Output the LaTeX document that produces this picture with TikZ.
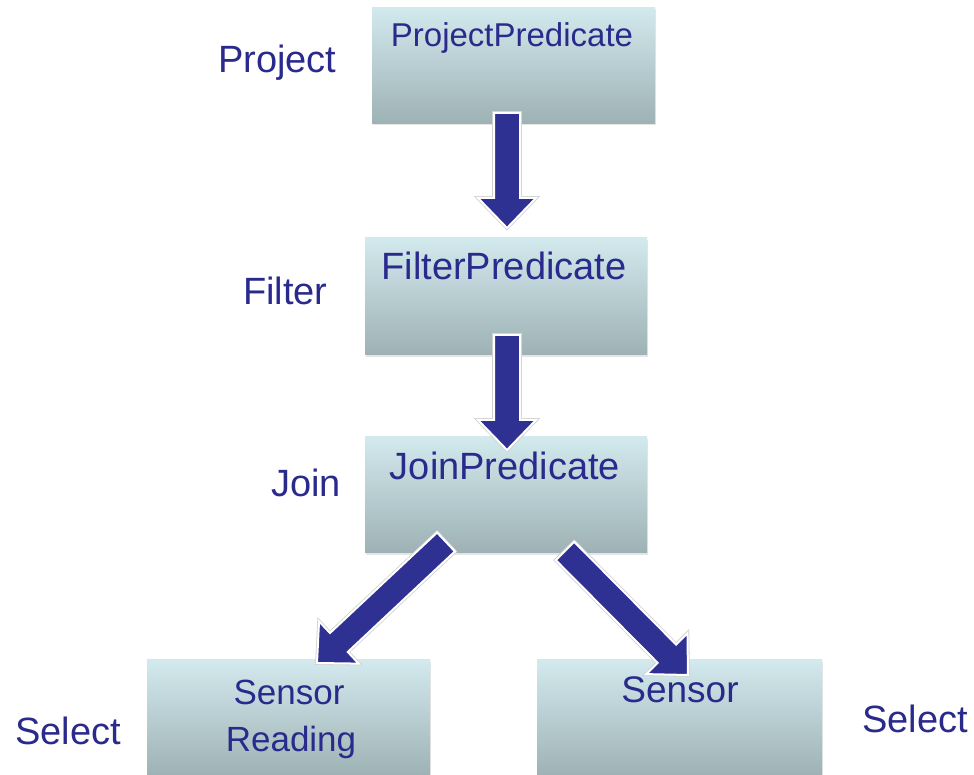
\documentclass[tikz,border=0pt]{standalone}
\usepackage{fontspec}
\setmainfont{Liberation Sans}
\usetikzlibrary{calc,shadows}
\definecolor{arrowblue}{RGB}{46,49,146}
\definecolor{textblue}{RGB}{42,42,140}
\definecolor{boxtop}{RGB}{210,233,237}
\definecolor{boxmid}{RGB}{192,214,218}
\definecolor{boxbot}{RGB}{158,178,181}
\tikzset{
  predbox/.style={rectangle, draw=none, inner sep=0pt, minimum width=283pt, minimum height=116pt,
    top color=boxtop, middle color=boxmid, bottom color=boxbot,
    drop shadow={opacity=0.2, shadow xshift=1pt, shadow yshift=-2pt}},
  btxt/.style={text=textblue, inner sep=0pt, font=\fontsize{38pt}{44pt}\selectfont},
  lbl/.style={text=textblue, inner sep=0pt, font=\fontsize{38pt}{44pt}\selectfont},
  bigarrow/.style={fill=arrowblue, draw=white, line width=2pt, line join=miter,
    preaction={draw=black!18, line width=3.6pt}},
}
\newcommand\blockarrow[2]{%
  \coordinate (#1-h) at ($(#2)!30pt!(#1)$);
  \draw[bigarrow] ($(#1)!13pt!90:(#2)$) -- ($(#1-h)!13pt!90:(#2)$) -- ($(#1-h)!29pt!90:(#2)$) -- (#2)
    -- ($(#1-h)!29pt!-90:(#2)$) -- ($(#1-h)!13pt!-90:(#2)$) -- ($(#1)!13pt!-90:(#2)$) -- cycle;}
\begin{document}
\begin{tikzpicture}[x=1pt,y=1pt]
\useasboundingbox (0,0) rectangle (974,775);
\fill[white] (0,0) rectangle (974,775);
% boxes
\node[predbox] (proj) at (513.5,709.5) {};
\node[predbox, minimum height=117pt, minimum width=282pt] (filt) at (506,478.5) {};
\node[predbox, minimum width=282pt] (join) at (506,280) {};
\node[predbox] (sr) at (288.5,57) {};
\node[predbox, minimum width=285pt] (sens) at (679.5,57) {};
% box texts
\node[btxt, anchor=base, font=\fontsize{33pt}{40pt}\selectfont] (tproj) at (512,728) {ProjectPredicate};
\node[btxt, anchor=base] (tfilt) at (504,495) {FilterPredicate};
\node[btxt, anchor=base] (tjoin) at (505,295) {JoinPredicate};
\node[btxt, anchor=base, font=\fontsize{35pt}{42pt}\selectfont] (tsr1) at (289,70) {Sensor};
\node[btxt, anchor=base, font=\fontsize{35pt}{42pt}\selectfont] (tsr2) at (291,23) {Reading};
\node[btxt, anchor=base, font=\fontsize{37pt}{44pt}\selectfont] (tsens) at (680,72) {Sensor};
% side labels
\node[lbl, anchor=base west] (lproj) at (218,702) {Project};
\node[lbl, anchor=base west] (lfilt) at (243,470) {Filter};
\node[lbl, anchor=base west] (ljoin) at (271,278) {Join};
\node[lbl, anchor=base west] (lsel1) at (15,30) {Select};
\node[lbl, anchor=base west] (lsel2) at (862,42) {Select};
% arrows
\coordinate (a1s) at (507,662);
\coordinate (a1e) at (507,547);
\coordinate (a2s) at (507,440);
\coordinate (a2e) at (507,325);
\coordinate (a3s) at (446,233);
\coordinate (a3e) at (317,112);
\coordinate (a4s) at (565,224);
\coordinate (a4e) at (688,100);
\blockarrow{a1s}{a1e}
\blockarrow{a2s}{a2e}
\blockarrow{a3s}{a3e}
\blockarrow{a4s}{a4e}
\end{tikzpicture}
\end{document}
